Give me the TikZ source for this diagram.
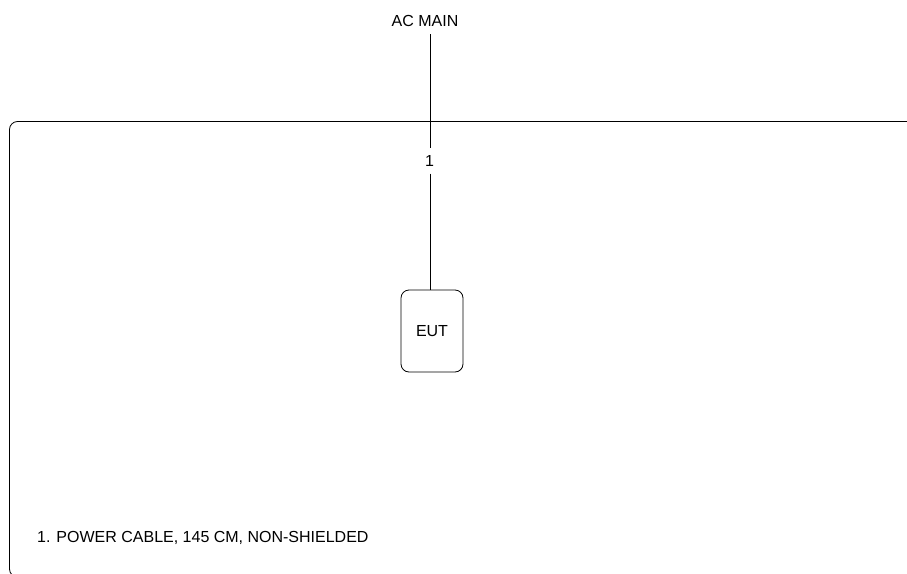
\documentclass[tikz,border=0pt]{standalone}
\usepackage{fontspec}
\setmainfont{Liberation Sans}
\usepackage{tikz}
\usetikzlibrary{positioning}

\begin{document}
\begin{tikzpicture}[x=1pt, y=-1pt,
  lbl/.style={font=\fontsize{16}{19}\selectfont, inner sep=2pt},
  cable/.style={draw=black, line width=0.8pt},
  eutbox/.style={draw=black, line width=0.8pt, rounded corners=8pt,
    minimum width=62pt, minimum height=82pt, font=\fontsize{16}{19}\selectfont}]
\useasboundingbox (0,0) rectangle (907,573);
\clip (0,0) rectangle (907,573);
% table outline, runs off the page
\draw[line width=0.8pt, rounded corners=8pt] (9.5,121.5) rectangle (940,577);
\node[lbl] (acmain) at (425,21) {AC MAIN};
\node[lbl, minimum height=25pt] (cab1) at (429.5,161) {1};
\node[eutbox] (eut) at (432,331) {EUT};
\coordinate (acin) at (430,34);
\draw[cable] (acin) -- (acin |- cab1.north);
\draw[cable] (acin |- cab1.south) -- (acin |- eut.north);
\node[lbl, anchor=west] (note1) at (35,538) {1. POWER CABLE, 145 CM, NON-SHIELDED};
\end{tikzpicture}
\end{document}
